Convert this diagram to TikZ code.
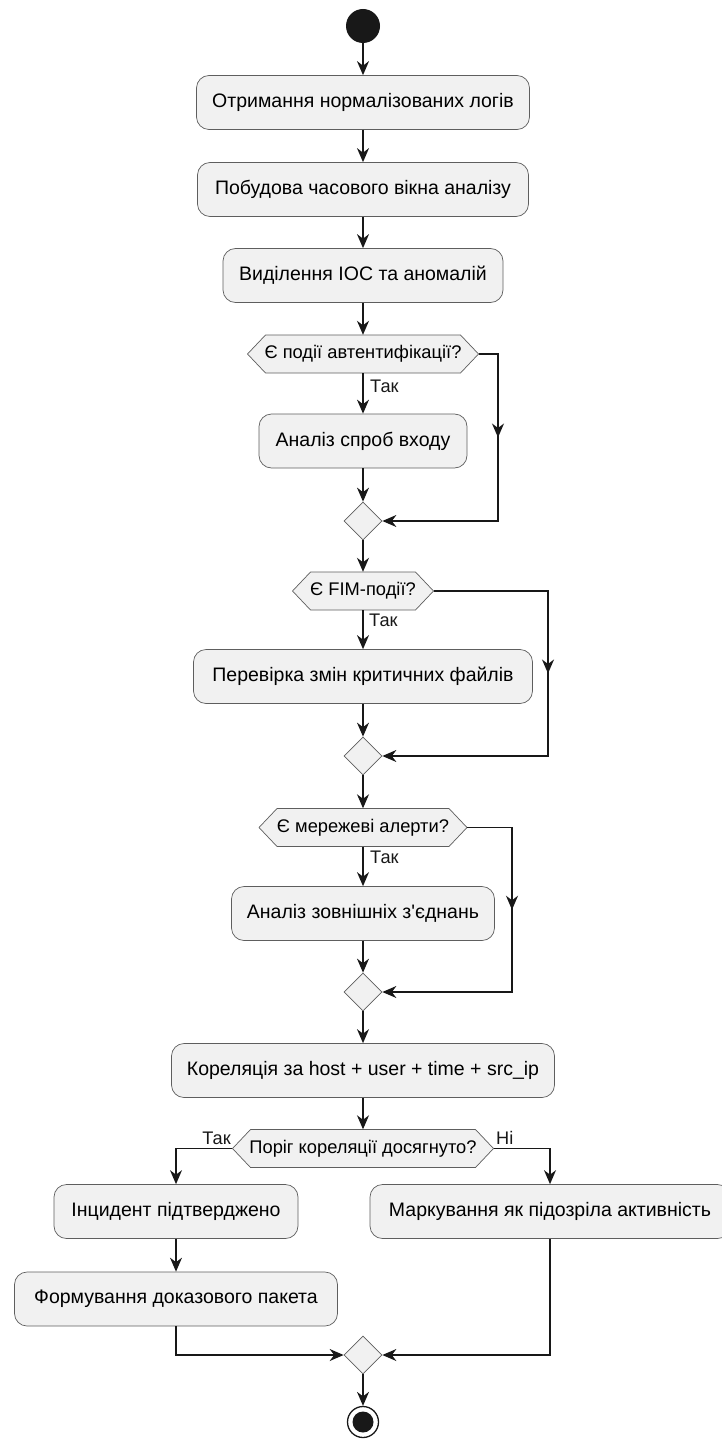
\documentclass[tikz,border=0pt]{standalone}
\usepackage{fontspec}
\setmainfont{Liberation Sans}
\usetikzlibrary{arrows.meta,shapes.geometric,calc}
\definecolor{boxfill}{HTML}{F1F1F1}
\definecolor{ink}{HTML}{181818}
\definecolor{edgec}{HTML}{5E5E5E}
\tikzset{
  box/.style={rectangle, rounded corners=12.5pt, draw=edgec, line width=0.7pt, fill=boxfill,
    minimum height=54pt, inner sep=0pt, font=\fontsize{19.5}{22}\selectfont},
  hexshape/.style={draw=edgec, line width=0.7pt, fill=boxfill},
  hextext/.style={rectangle, minimum height=38pt, inner sep=0pt, font=\fontsize{18.3}{21}\selectfont},
  merge/.style={diamond, aspect=1, draw=edgec, line width=0.7pt, fill=boxfill, minimum width=38pt, minimum height=38pt, inner sep=0pt},
  conn/.style={draw=ink, line width=1.3pt, -{Stealth[length=14pt,width=12pt,inset=4.5pt]}},
  lbl/.style={inner sep=0pt, font=\fontsize{18.2}{21}\selectfont, text=ink},
}
\newcommand\hexdec[5]{%
  \path[hexshape] (#2-#4,#3) -- (#2-#4+18,#3-19) -- (#2+#4-18,#3-19) -- (#2+#4,#3)
    -- (#2+#4-18,#3+19) -- (#2-#4+18,#3+19) -- cycle;
  \node[hextext, minimum width={2*#4pt}] (#1) at (#2,#3) {#5};}
\begin{document}
\begin{tikzpicture}[x=1pt, y=-1pt]
\useasboundingbox (0,0) rectangle (721,1439);
% start
\node[circle, fill=ink, minimum size=34pt, inner sep=0pt] (start) at (363,26) {};
\node[box, minimum width=333pt] (b1) at (363,102.5) {Отримання нормалізованих логів};
\node[box, minimum width=331pt] (b2) at (363,189.5) {Побудова часового вікна аналізу};
\node[box, minimum width=280pt] (b3) at (363,275.5) {Виділення IOC та аномалій};
\hexdec{d1}{363}{354}{115.5}{Є події автентифікації?}
\node[box, minimum width=208pt] (b4) at (363,441) {Аналіз спроб входу};
\node[merge] (m1) at (363,521) {};
\hexdec{d2}{363}{591}{70.5}{Є FIM-події?}
\node[box, minimum width=339pt] (b5) at (363,676.5) {Перевірка змін критичних файлів};
\node[merge] (m2) at (363,756) {};
\hexdec{d3}{363}{827.5}{104}{Є мережеві алерти?}
\node[box, minimum width=263pt] (b6) at (363,913.5) {Аналіз зовнішніх з\textquotesingle єднань};
\node[merge] (m3) at (363,992) {};
\node[box, minimum width=383pt] (b7) at (363,1070.5) {Кореляція за host + user + time + src\_ip};
\hexdec{d4}{363}{1148.5}{130.5}{Поріг кореляції досягнуто?}
\node[box, minimum width=244pt] (b8) at (176,1211.5) {Інцидент підтверджено};
\node[box, minimum width=360pt] (b9) at (550,1211.5) {Маркування як підозріла активність};
\node[box, minimum width=323pt] (b10) at (176,1299) {Формування доказового пакета};
\node[merge] (m4) at (363,1355) {};
\node[circle, draw=ink, line width=1.3pt, minimum size=31pt, inner sep=0pt] (stop) at (363,1422) {};
\node[circle, fill=ink, minimum size=21pt, inner sep=0pt] (stopdot) at (stop) {};
% bypass corners
\coordinate (r1) at (498,354);   \coordinate (r1b) at (498,521);
\coordinate (r2) at (548,591);   \coordinate (r2b) at (548,756);
\coordinate (r3) at (512,827.5); \coordinate (r3b) at (512,992);
% connectors
\draw[conn] (start) -- (b1);
\draw[conn] (b1) -- (b2);
\draw[conn] (b2) -- (b3);
\draw[conn] (b3) -- (d1);
\draw[conn] (d1) -- (b4);
\draw[conn] (b4) -- (m1);
\draw[conn] (d1.east) -- (r1) -- (r1b) -- (m1.east);
\draw[conn] (r1) -- ($(r1)!0.5!(r1b)$);
\draw[conn] (m1) -- (d2);
\draw[conn] (d2) -- (b5);
\draw[conn] (b5) -- (m2);
\draw[conn] (d2.east) -- (r2) -- (r2b) -- (m2.east);
\draw[conn] (r2) -- ($(r2)!0.5!(r2b)$);
\draw[conn] (m2) -- (d3);
\draw[conn] (d3) -- (b6);
\draw[conn] (b6) -- (m3);
\draw[conn] (d3.east) -- (r3) -- (r3b) -- (m3.east);
\draw[conn] (r3) -- ($(r3)!0.5!(r3b)$);
\draw[conn] (m3) -- (b7);
\draw[conn] (b7) -- (d4);
\draw[conn] (d4.west) -| (b8.north);
\draw[conn] (d4.east) -| (b9.north);
\draw[conn] (b8) -- (b10);
\draw[conn] (b10.south) |- (m4.west);
\draw[conn] (b9.south) |- (m4.east);
\draw[conn] (m4) -- (stop);
% labels
\node[lbl, anchor=base west] (t1) at (370,392) {Так};
\node[lbl, anchor=base west] (t2) at (369,626) {Так};
\node[lbl, anchor=base west] (t3) at (370,863) {Так};
\node[lbl, anchor=base east] (t4) at (231,1144) {Так};
\node[lbl, anchor=base west] (t5) at (496,1144) {Ні};
\end{tikzpicture}
\end{document}
